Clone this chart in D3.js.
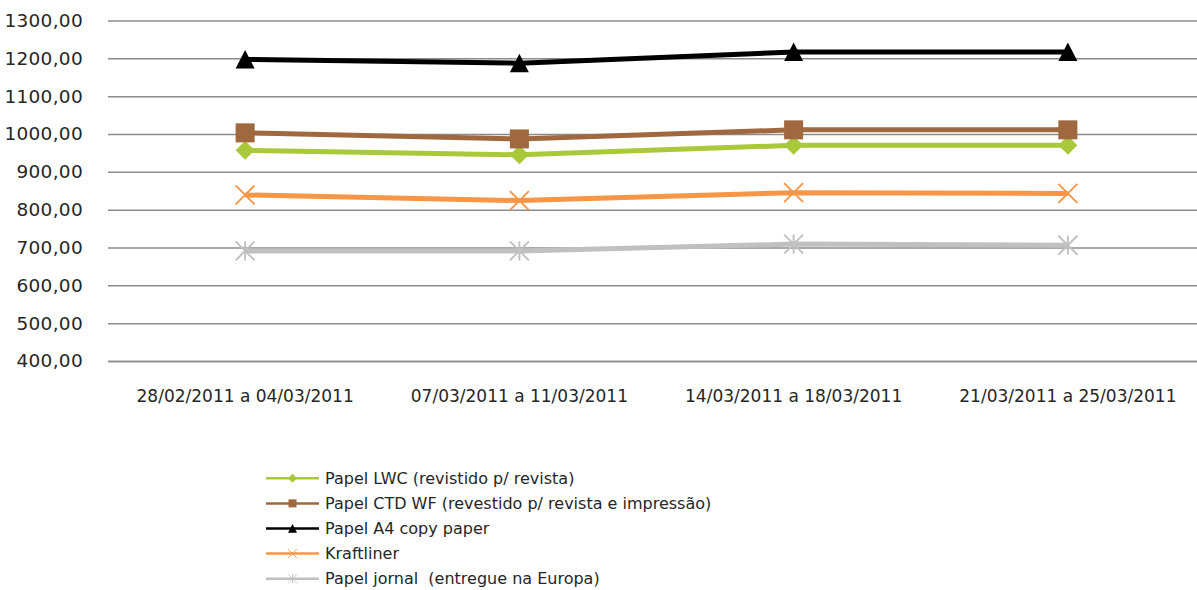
<!DOCTYPE html>
<html><head><meta charset="utf-8">
<script src="https://cdn.jsdelivr.net/npm/d3@7"></script>
<style>body{margin:0;background:#fff}svg{display:block}text{font-family:"DejaVu Sans",sans-serif;fill:#262626}</style>
</head><body>
<svg id="c" width="1197" height="590"></svg>
<script>
const categories = ["28/02/2011 a 04/03/2011","07/03/2011 a 11/03/2011","14/03/2011 a 18/03/2011","21/03/2011 a 25/03/2011"];
const lwc = [957, 945, 970, 970];
const ctd = [1003, 987, 1011, 1011];
const a4 = [1197, 1187, 1217, 1217];
const kraft = [839, 824, 845, 843];
const jornal = [691, 691, 709, 706];
const yTicks = [400,500,600,700,800,900,1000,1100,1200,1300];
const seriesNames = ["Papel LWC (revistido p/ revista)","Papel CTD WF (revestido p/ revista e impressão)","Papel A4 copy paper","Kraftliner","Papel jornal  (entregue na Europa)"];
const seriesColors = ["#a9c83a","#a0683e","#000000","#f79646","#c0c0c0"];
const seriesMarkers = ["diamond","square","triangle","x","star"];
const seriesData = [lwc, ctd, a4, kraft, jornal];

(function(){
const svg = d3.select("#c");
const pl = 108, pr = 1205, pt = 20.5, pb = 361;
const x = d3.scaleBand().domain(categories).range([pl, pr]);
const y = d3.scaleLinear().domain([400, 1300]).range([pb, pt]);

const yAxis = d3.axisLeft(y).tickValues(yTicks).tickSize(-(pr-pl)).tickPadding(25)
  .tickFormat(d => d3.format(".2f")(d).replace(".", ","));
const gy = svg.append("g").attr("transform", `translate(${pl},0)`).call(yAxis);
gy.select(".domain").remove();
gy.selectAll(".tick line").attr("stroke", "#8c8c8c").attr("stroke-width", 1.5);
gy.selectAll(".tick text").style("font-size", "18.5px").style("letter-spacing", "0.3px").style("font-family", "'DejaVu Sans'").attr("fill", "#262626");

const xAxis = d3.axisBottom(x).tickSize(0).tickPadding(28.5);
const gx = svg.append("g").attr("transform", `translate(0,${pb})`).call(xAxis);
gx.select(".domain").attr("stroke", "#8c8c8c").attr("stroke-width", 1.5);
gx.selectAll(".tick text").style("font-size", "17px").style("font-family", "'DejaVu Sans'").attr("fill", "#262626");

function marker(g, type, size, color) {
  const s = size / 2;
  if (type === "diamond") g.append("path").attr("d", `M0,${-s}L${s},0L0,${s}L${-s},0Z`).attr("fill", color);
  else if (type === "square") g.append("rect").attr("x", -s).attr("y", -s).attr("width", size).attr("height", size).attr("fill", color);
  else if (type === "triangle") g.append("path").attr("d", `M0,${-s}L${s},${s*0.95}L${-s},${s*0.95}Z`).attr("fill", color);
  else if (type === "x") g.append("path").attr("d", `M${-s},${-s}L${s},${s}M${-s},${s}L${s},${-s}`).attr("stroke", color).attr("stroke-width", size/10);
  else if (type === "star") g.append("path").attr("d", `M${-s},${-s}L${s},${s}M${-s},${s}L${s},${-s}M0,${-s}L0,${s}`).attr("stroke", color).attr("stroke-width", size/10);
}

const line = d3.line().x((d, i) => x(categories[i]) + x.bandwidth()/2).y(d => y(d));
const drawOrder = [4,3,0,1,2];
drawOrder.forEach(k => {
  const g = svg.append("g");
  g.append("path").datum(seriesData[k]).attr("d", line).attr("fill", "none")
    .attr("stroke", seriesColors[k]).attr("stroke-width", 5).attr("stroke-linejoin", "round");
  seriesData[k].forEach((v, i) => {
    const mg = g.append("g").attr("transform", `translate(${x(categories[i]) + x.bandwidth()/2},${y(v)})`);
    marker(mg, seriesMarkers[k], 19, seriesColors[k]);
  });
});

const leg = svg.append("g");
seriesNames.forEach((n, i) => {
  const yy = 478.3 + i * 25.1;
  const r = leg.append("g").attr("transform", `translate(266,${yy})`);
  r.append("line").attr("x1", 0).attr("x2", 53).attr("stroke", seriesColors[i]).attr("stroke-width", 2.5);
  const mg = r.append("g").attr("transform", "translate(26.5,0)");
  marker(mg, seriesMarkers[i], i===1 ? 8 : 9, seriesColors[i]);
  r.append("text").attr("x", 59).attr("dy", "0.36em").style("font-size", "16px").style("white-space", "pre").text(n);
});
})();
</script>
</body></html>
